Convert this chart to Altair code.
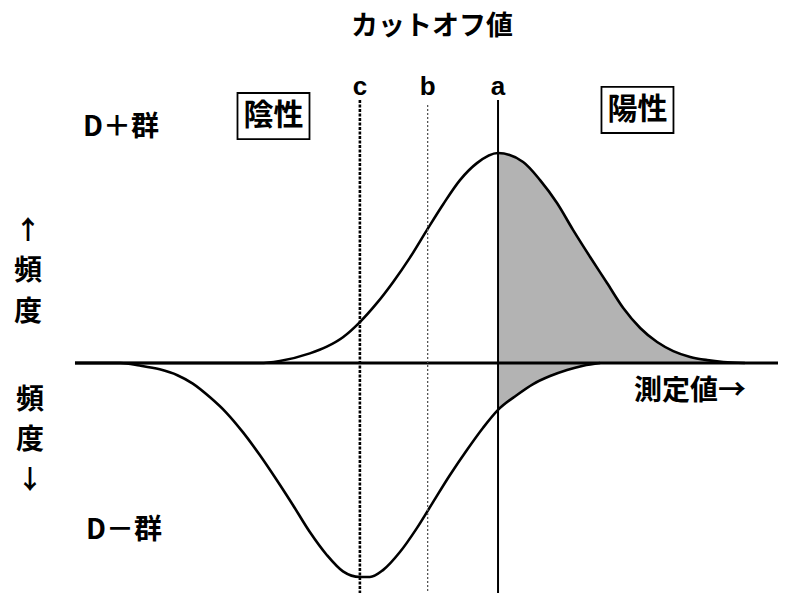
import altair as alt
import pandas as pd

# D+ group (upper curve): frequency drawn upward, peak = 100
UP_X = [8.7, 32.7, 35.3, 39.2, 41.4, 43.5, 45.7, 47.9, 50.0, 52.2, 54.4, 56.5, 58.7, 60.9, 63.64,
        66.9, 69.1, 71.3, 73.4, 75.6, 77.8, 79.9, 82.1, 84.3, 86.4, 88.6, 90.8, 92.9, 95.7]
UP_F = [0, 0, 1, 4.6, 7.8, 12.3, 19.5, 28.5, 38.5, 50.2, 63.3, 75.5, 87.1, 95.2, 100,
        95.7, 87.1, 76.2, 63.3, 50.5, 38.1, 26.2, 16.7, 10, 5.7, 2.9, 1.4, 0.5, 0]
# D- group (lower curve): frequency drawn downward
LOW_X = [8.7, 14.6, 17.1, 19.7, 22.0, 24.0, 26.2, 28.4, 30.5, 32.7, 34.9, 37.0, 39.2, 41.4, 43.5,
         45.7, 47.0, 48.7, 50.9, 53.1, 55.2, 57.4, 59.6, 61.7, 63.64, 66.1, 68.2, 70.4, 72.6, 74.7, 76.9]
LOW_F = [0, 0, -1.2, -3.0, -5.8, -9.8, -16.2, -23.8, -32.9, -43.8, -55.7, -67.6, -80.5, -91.4, -99.2,
         -101.9, -101.9, -98.6, -90, -78.6, -66.2, -53.3, -41.4, -30.8, -22.3, -15.2, -10.0, -6.2, -3.3, -1.3, 0]

# cut-off values
CUT_NAMES = ["a", "b", "c"]
CUT_VALUES = [63.64, 54.5, 45.7]

# measured-value axis extent
AXIS_START = 8.7
AXIS_END = 100

# texts
TITLE = "カットオフ値"
GROUP_POS = "D＋群"
GROUP_NEG = "D－群"
NEGATIVE = "陰性"
POSITIVE = "陽性"
X_LABEL = "測定値→"

# ---- layout ----
W, H = 770, 585
X_DOMAIN = [0, 100]
Y_DOMAIN = [-109.5, 169.05]
xs = alt.Scale(domain=X_DOMAIN, nice=False, zero=False)
ys = alt.Scale(domain=Y_DOMAIN, nice=False, zero=False)
JP = "Noto Sans CJK JP"
GRAY = "#b3b3b3"

up = pd.DataFrame({"x": UP_X, "f": UP_F})
low = pd.DataFrame({"x": LOW_X, "f": LOW_F})
a_val = CUT_VALUES[0]

X = lambda: alt.X("x:Q", scale=xs, axis=None)
Y = lambda: alt.Y("f:Q", scale=ys, axis=None)

up_area = alt.Chart(up[up.x >= a_val]).mark_area(color=GRAY, interpolate="monotone").encode(
    x=X(), y=Y(), y2=alt.datum(0))
low_area = alt.Chart(low[low.x >= a_val]).mark_area(color=GRAY, interpolate="monotone").encode(
    x=X(), y=Y(), y2=alt.datum(0))

base = alt.Chart(pd.DataFrame({"x": [AXIS_START], "x2": [AXIS_END], "f": [0]})).mark_rule(
    color="black", strokeWidth=3).encode(x=X(), x2="x2:Q", y=Y())

up_line = alt.Chart(up).mark_line(color="black", strokeWidth=2.6, interpolate="monotone").encode(
    x=X(), y=Y(), order="x:Q")
low_line = alt.Chart(low).mark_line(color="black", strokeWidth=2.6, interpolate="monotone").encode(
    x=X(), y=Y(), order="x:Q")

cuts = pd.DataFrame({"name": CUT_NAMES, "x": CUT_VALUES, "top": [125.2, 122.9, 125.2]})
rule_a = alt.Chart(cuts[cuts.name == "a"]).mark_rule(color="black", strokeWidth=2).encode(
    x=X(), y=alt.Y("top:Q", scale=ys, axis=None), y2=alt.value(H))
rule_b = alt.Chart(cuts[cuts.name == "b"]).mark_rule(color="#555555", strokeWidth=1.3, strokeDash=[2, 2]).encode(
    x=X(), y=alt.Y("top:Q", scale=ys, axis=None), y2=alt.value(H))
rule_c = alt.Chart(cuts[cuts.name == "c"]).mark_rule(color="black", strokeWidth=2.6, strokeDash=[3, 1.5]).encode(
    x=X(), y=alt.Y("top:Q", scale=ys, axis=None), y2=alt.value(H))

cut_labels = alt.Chart(cuts.assign(ly=127.6)).mark_text(
    font="Liberation Sans", fontWeight="bold", fontSize=26, baseline="alphabetic", align="center",
    color="black").encode(x=X(), y=alt.Y("ly:Q", scale=ys, axis=None), text="name:N")

boxes = pd.DataFrame({"x": [34.48, 81.75], "f": [117.6, 120.5]})
box_marks = alt.Chart(boxes).mark_point(
    shape="M-1,-0.64L1,-0.64L1,0.64L-1,0.64Z", size=72 * 72, filled=False, color="black",
    strokeWidth=1.8, opacity=1).encode(x=X(), y=Y())

labels = pd.DataFrame({
    "t": [TITLE, GROUP_POS, NEGATIVE, POSITIVE, "↑", "頻", "度", "頻", "度", "↓", GROUP_NEG, X_LABEL],
    "x": [55.06, 14.68, 34.48, 81.75, 2.6, 2.6, 2.6, 2.86, 2.86, 2.86, 15.06, 88.57],
    "f": [159.8, 111.9, 117.6, 120.5, 62.9, 43.3, 23.8, -18.1, -37.1, -56.2, -80.0, -13.8],
    "s": [27, 28, 30, 30, 26, 28, 28, 28, 28, 26, 28, 28],
})
texts = alt.Chart(labels).mark_text(
    font=JP, fontWeight="bold", baseline="middle", align="center", color="black").encode(
    x=X(), y=Y(), text="t:N", size=alt.Size("s:Q", scale=None, legend=None))

chart = alt.layer(
    up_area, low_area, base, up_line, low_line, rule_a, rule_b, rule_c,
    cut_labels, box_marks, texts
).properties(width=W, height=H, padding=0, autosize="none").configure_view(stroke=None)

chart.save("out.html", embed_options={"renderer": "svg", "actions": False})
